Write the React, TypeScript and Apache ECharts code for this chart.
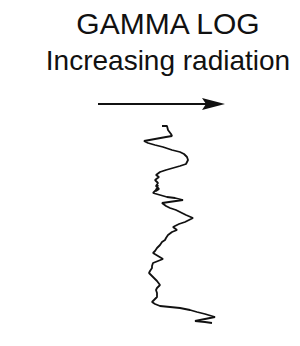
import React, { useEffect, useRef } from "react";
import * as echarts from "echarts";

const titleText = "GAMMA LOG";
const subtitleText = "Increasing radiation";

// gamma reading (relative radiation units) vs depth (relative depth units)
const gamma = [22, 27, 28, 31, 32, 26, 15, 4, 8, 15, 23, 32, 40, 44, 47, 48, 46, 40, 33, 26, 20, 16, 19, 15, 18, 16, 19, 16, 18, 16, 13, 20, 27, 35, 43, 36, 22, 26, 30, 36, 42, 46, 53, 49, 45, 39, 33, 37, 32, 28, 26, 25, 22, 20, 17, 15, 13, 18, 23, 18, 13, 12, 12, 10, 9, 12, 14, 17, 20, 17, 16, 17, 17, 14, 12, 15, 20, 30, 40, 50, 57, 65, 75, 65, 55, 65, 72];
const depth = [1, 1, 5, 9, 11, 12, 14, 16, 18, 20, 22, 25, 27, 29, 32, 35, 39, 41, 43, 45, 47, 50, 52, 55, 58, 61, 64, 66, 60, 65, 68, 70, 72, 73, 75, 76, 78, 81, 83, 85, 88, 90, 93, 95, 97, 99, 102, 105, 107, 110, 113, 115, 117, 120, 123, 126, 128, 131, 134, 136, 138, 141, 143, 146, 148, 151, 153, 156, 160, 163, 165, 168, 172, 175, 177, 179, 181, 182, 183, 185, 187, 189, 192, 194, 196, 197, 198];

export default function App() {
  const ref = useRef<HTMLDivElement>(null);
  useEffect(() => {
    if (!ref.current) return;
    const chart = echarts.init(ref.current, null, { renderer: "svg" });
    const data = gamma.map((g, i) => [g, depth[i]]);
    chart.setOption({
      animation: false,
      backgroundColor: "#ffffff",
      grid: { left: 140, top: 125, width: 80, height: 200 },
      xAxis: { type: "value", min: 0, max: 80, show: false },
      yAxis: { type: "value", min: 0, max: 200, inverse: true, show: false },
      graphic: [
        {
          type: "text",
          x: 168,
          y: 38,
          style: {
            text: titleText,
            fontFamily: "Liberation Sans",
            fontSize: 30,
            fill: "#111",
            align: "center",
            verticalAlign: "bottom",
          },
        },
        {
          type: "text",
          x: 168,
          y: 74,
          style: {
            text: subtitleText,
            fontFamily: "Liberation Sans",
            fontSize: 28,
            fill: "#111",
            align: "center",
            verticalAlign: "bottom",
          },
        },
        {
          type: "line",
          shape: { x1: 98, y1: 104, x2: 210, y2: 104 },
          style: { stroke: "#111", lineWidth: 2 },
        },
        {
          type: "polygon",
          shape: { points: [[202, 98], [225, 104], [202, 110], [206, 104]] },
          style: { fill: "#111" },
        },
      ],
      series: [
        {
          type: "line",
          data,
          symbol: "none",
          smooth: false,
          lineStyle: { color: "#111", width: 1.8 },
        },
      ],
    });
    return () => chart.dispose();
  }, []);
  return (
    <div
      ref={ref}
      style={{ position: "fixed", left: 0, top: 0, width: 300, height: 346 }}
    />
  );
}
